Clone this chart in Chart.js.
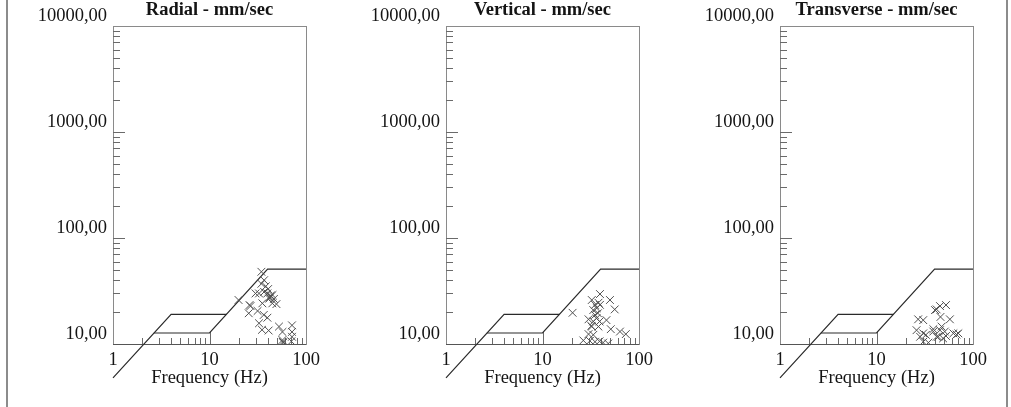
<!DOCTYPE html>
<html>
<head>
<meta charset="utf-8">
<script src="https://cdn.jsdelivr.net/npm/chart.js@4.4.1/dist/chart.umd.min.js"></script>
<style>
  html, body { margin: 0; padding: 0; background: #ffffff; }
  #page { position: relative; width: 1011px; height: 407px; overflow: hidden; background: #ffffff; }
  #frame { position: absolute; left: 6px; top: 0; width: 1002px; height: 407px;
           border-left: 2px solid #8c8c8c; border-right: 2px solid #8c8c8c; box-sizing: border-box; }
  canvas { position: absolute; top: 0; }
</style>
</head>
<body>
<div id="page">
  <div id="frame"></div>
  <canvas id="radial" width="334" height="407" style="left:0px"></canvas>
  <canvas id="vertical" width="334" height="407" style="left:333px"></canvas>
  <canvas id="transverse" width="334" height="407" style="left:667px"></canvas>
</div>
<script>
// Peak particle velocity (mm/s) against frequency (Hz), one panel per component
const radialFreq = [34.5, 36.8, 34.5, 38.3, 32.6, 36.8, 39.8, 42.4, 42.0, 43.2, 41.5, 46.5, 44.8, 49.4, 35.3,
                    26.0, 20.0, 25.5, 36.5, 39.8, 32.6, 52.5, 35.0, 41.0, 57.0, 71.6, 71.6, 57.0, 57.5, 58.0,
                    71.6, 70.5, 26.6, 30.0, 31.5, 40.5, 45.0];
const radialVel  = [48.0, 40.0, 37.0, 35.0, 30.0, 31.0, 30.0, 28.0, 27.3, 28.6, 26.8, 26.6, 24.2, 23.8, 24.2,
                    23.3, 26.0, 19.5, 18.8, 17.7, 15.7, 14.6, 13.6, 13.4, 13.0, 15.0, 13.0, 10.9, 10.5, 10.3,
                    11.7, 10.6, 22.8, 30.0, 20.5, 33.0, 29.0];

const verticalFreq = [39.4, 32.4, 38.0, 50.0, 35.0, 39.4, 56.0, 20.5, 33.6, 35.0, 36.3, 33.6, 39.0, 46.0, 32.4,
                      38.0, 51.0, 63.5, 73.0, 30.0, 33.6, 26.5, 31.0, 35.0, 39.0, 42.5, 48.0, 30.0, 32.0, 36.5,
                      37.5];
const verticalVel  = [29.6, 26.0, 24.5, 26.0, 23.4, 23.4, 21.2, 19.7, 20.9, 18.8, 17.5, 16.3, 16.3, 16.8, 14.6,
                      14.6, 13.8, 13.1, 12.4, 12.4, 12.2, 10.8, 10.7, 10.5, 10.6, 10.3, 10.1, 17.1, 14.8, 21.8,
                      19.5];

const transverseFreq = [40.4, 45.5, 52.5, 46.0, 57.6, 27.0, 30.5, 26.0, 30.5, 38.8, 45.5, 51.0, 28.3, 32.5, 43.6,
                        49.0, 62.6, 70.5, 30.5, 34.5, 47.3, 38.8, 42.0, 67.5, 52.5, 42.0];
const transverseVel  = [20.9, 22.8, 23.3, 18.0, 17.1, 17.1, 16.8, 13.5, 12.6, 13.1, 13.5, 13.1, 11.7, 12.2, 11.7,
                        11.3, 12.6, 12.6, 10.5, 10.3, 14.6, 13.8, 11.7, 12.3, 11.9, 21.2];

// Damage criteria curve: displacement / velocity limits
const limitLowerFreq = [2.65, 10, 40, 100];
const limitLowerVel  = [12.7, 12.7, 50.8, 50.8];
const limitUpperFreq = [1, 4, 15];
const limitUpperVel  = [4.79, 19.05, 19.05];

// Labelled axis ticks
const freqTicks = [1, 10, 100];
const velTicks  = [10, 100, 1000, 10000];

const SERIF = '"Liberation Serif", "Times New Roman", serif';
const INK = '#141414';
const FONT_SIZE = 18.5;

function pairs(xs, ys) { return xs.map((x, i) => ({ x: x, y: ys[i] })); }

function minorValues(lo, hi) {
  const out = [];
  for (let d = lo; d < hi; d *= 10) {
    for (let k = 2; k <= 9; k++) out.push(k * d);
  }
  return out;
}

const panelDecor = {
  id: 'panelDecor',
  beforeDatasetsDraw(chart) {
    const { ctx, chartArea: a, scales: { x, y } } = chart;
    ctx.save();
    // plot frame
    ctx.strokeStyle = '#8a8a8a';
    ctx.lineWidth = 1;
    ctx.strokeRect(Math.round(a.left) + 0.5, Math.round(a.top) + 0.5,
                   Math.round(a.right - a.left), Math.round(a.bottom - a.top));
    ctx.strokeStyle = '#555555';
    ctx.beginPath();
    ctx.moveTo(a.left, Math.round(a.bottom) + 0.5);
    ctx.lineTo(a.right, Math.round(a.bottom) + 0.5);
    ctx.stroke();
    // inward tick marks
    ctx.strokeStyle = '#6a6a6a';
    ctx.beginPath();
    minorValues(1, 100).forEach(v => {
      const px = Math.round(x.getPixelForValue(v)) + 0.5;
      ctx.moveTo(px, a.bottom);
      ctx.lineTo(px, a.bottom - 6);
    });
    [10].forEach(v => {
      const px = Math.round(x.getPixelForValue(v)) + 0.5;
      ctx.moveTo(px, a.bottom);
      ctx.lineTo(px, a.bottom - 12);
    });
    minorValues(10, 10000).forEach(v => {
      const py = Math.round(y.getPixelForValue(v)) + 0.5;
      ctx.moveTo(a.left, py);
      ctx.lineTo(a.left + 7, py);
    });
    [100, 1000].forEach(v => {
      const py = Math.round(y.getPixelForValue(v)) + 0.5;
      ctx.moveTo(a.left, py);
      ctx.lineTo(a.left + 12, py);
    });
    ctx.stroke();
    ctx.restore();
  },
  afterDraw(chart, args, opts) {
    const { ctx, chartArea: a } = chart;
    ctx.save();
    ctx.font = 'bold ' + FONT_SIZE + 'px ' + SERIF;
    ctx.fillStyle = INK;
    ctx.textAlign = 'center';
    ctx.textBaseline = 'alphabetic';
    ctx.fillText(opts.text, (a.left + a.right) / 2, 15);
    ctx.restore();
  }
};

function makePanel(id, title, freq, vel) {
  return new Chart(document.getElementById(id), {
    type: 'scatter',
    data: {
      datasets: [
        {
          data: pairs(freq, vel),
          pointStyle: 'crossRot',
          pointRadius: 5.5,
          pointBorderWidth: 1,
          pointBorderColor: '#505050',
          showLine: false
        },
        {
          data: pairs(limitLowerFreq, limitLowerVel),
          showLine: true,
          pointRadius: 0,
          borderColor: '#2a2a2a',
          borderWidth: 1.2,
          clip: false
        },
        {
          data: pairs(limitUpperFreq, limitUpperVel),
          showLine: true,
          pointRadius: 0,
          borderColor: '#2a2a2a',
          borderWidth: 1.2,
          clip: false
        }
      ]
    },
    options: {
      responsive: false,
      animation: false,
      events: [],
      layout: { padding: { left: 0, right: 28, top: 26, bottom: 0 } },
      plugins: {
        legend: { display: false },
        tooltip: { enabled: false },
        panelDecor: { text: title }
      },
      scales: {
        x: {
          type: 'logarithmic',
          position: 'bottom',
          min: 1,
          max: 100,
          grid: { display: false, drawTicks: false },
          border: { display: false },
          afterBuildTicks: s => { s.ticks = freqTicks.map(v => ({ value: v })); },
          afterFit: s => { s.height = 63; },
          ticks: {
            autoSkip: false,
            maxRotation: 0,
            padding: 5,
            color: INK,
            font: { family: SERIF, size: FONT_SIZE },
            callback: v => String(v)
          },
          title: {
            display: true,
            text: 'Frequency (Hz)',
            color: INK,
            font: { family: SERIF, size: FONT_SIZE },
            padding: { top: 0, bottom: 18 }
          }
        },
        y: {
          type: 'logarithmic',
          position: 'left',
          min: 10,
          max: 10000,
          grid: { display: false, drawTicks: false },
          border: { display: false },
          afterBuildTicks: s => { s.ticks = velTicks.map(v => ({ value: v })); },
          afterFit: s => { s.width = 113; },
          ticks: {
            autoSkip: false,
            padding: 6,
            labelOffset: -10,
            color: INK,
            font: { family: SERIF, size: FONT_SIZE },
            callback: v => Number(v).toFixed(2).replace('.', ',')
          }
        }
      }
    },
    plugins: [panelDecor]
  });
}

makePanel('radial', 'Radial - mm/sec', radialFreq, radialVel);
makePanel('vertical', 'Vertical - mm/sec', verticalFreq, verticalVel);
makePanel('transverse', 'Transverse - mm/sec', transverseFreq, transverseVel);
</script>
</body>
</html>
